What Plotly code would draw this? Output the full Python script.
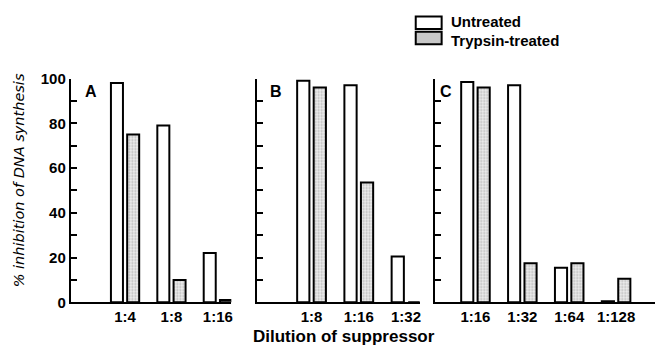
import plotly.graph_objects as go

# ---- data ----
A_labels = ["1:4", "1:8", "1:16"]
A_untreated = [98, 79, 22]
A_trypsin = [75, 10, 1]

B_labels = ["1:8", "1:16", "1:32"]
B_untreated = [99, 97, 20.5]
B_trypsin = [96, 53.5, 0]

C_labels = ["1:16", "1:32", "1:64", "1:128"]
C_untreated = [98.5, 97, 15.5, 0.5]
C_trypsin = [96, 17.5, 17.5, 10.5]

y_ticks = list(range(0, 101, 10))
y_ticktext = [str(v) if v % 20 == 0 else "" for v in y_ticks]

W, H = 657, 357
def px(x):
    return x / W
def py(y):
    return (H - y) / H

FONT = "Liberation Sans, Arial, sans-serif"

fig = go.Figure()

panels = [
    ("x", "y", A_labels, A_untreated, A_trypsin),
    ("x2", "y2", B_labels, B_untreated, B_trypsin),
    ("x3", "y3", C_labels, C_untreated, C_trypsin),
]
for xa, ya, labels, unt, tryp in panels:
    pos = list(range(len(labels)))
    fig.add_trace(go.Bar(x=pos, y=unt, xaxis=xa, yaxis=ya, name="Untreated",
                         marker=dict(color="white", line=dict(color="black", width=2)),
                         showlegend=False))
    fig.add_trace(go.Bar(x=pos, y=tryp, xaxis=xa, yaxis=ya, name="Trypsin-treated",
                         marker=dict(color="#d4d4d4", line=dict(color="black", width=2),
                                     pattern=dict(shape=".", size=3, solidity=0.35,
                                                  fgcolor="#7a7a7a", bgcolor="#eeeeee")),
                         showlegend=False))

tickfont = dict(family=FONT, size=15, color="black", weight="bold")
ydom = [py(308), py(73)]

def xaxis(dom, rng, labels):
    return dict(domain=dom, range=rng, tickvals=list(range(len(labels))), ticktext=labels,
                showline=True, linecolor="black", linewidth=2, ticks="", showgrid=False,
                zeroline=False, tickfont=tickfont, fixedrange=True)

def yaxis(anchor, show_labels):
    return dict(domain=ydom, range=[0, 100], anchor=anchor, tickvals=y_ticks,
                ticktext=y_ticktext if show_labels else [""] * len(y_ticks),
                showline=True, linecolor="black", linewidth=2, ticks="inside",
                ticklen=6, tickwidth=2, tickcolor="black", showgrid=False, zeroline=False,
                tickfont=tickfont)

fig.update_layout(
    width=W, height=H, margin=dict(l=0, r=0, t=0, b=0),
    paper_bgcolor="white", plot_bgcolor="white",
    barmode="group", bargap=0.3, bargroupgap=0.26,
    xaxis=xaxis([px(71), px(232)], [-1.17, 2.29], A_labels) | dict(anchor="y"),
    xaxis2=xaxis([px(258), px(421)], [-1.15, 2.29], B_labels) | dict(anchor="y2"),
    xaxis3=xaxis([px(436), 1.0], [-0.87, 3.83], C_labels) | dict(anchor="y3"),
    yaxis=yaxis("x", True),
    yaxis2=yaxis("x2", False),
    yaxis3=yaxis("x3", False),
    showlegend=False,
)

ann_font = dict(family=FONT, size=16, color="black", weight="bold")
annotations = [
    dict(x=px(91), y=py(87), text="A"),
    dict(x=px(277), y=py(87), text="B"),
    dict(x=px(447), y=py(87), text="C"),
]
for a in annotations:
    fig.add_annotation(xref="paper", yref="paper", showarrow=False, font=ann_font,
                       xanchor="center", yanchor="middle", **a)

# axis titles
fig.add_annotation(xref="paper", yref="paper", x=px(345), y=py(344), showarrow=False,
                   text="Dilution of suppressor",
                   font=dict(family=FONT, size=17, color="black", weight="bold"),
                   xanchor="center", yanchor="middle")
fig.add_annotation(xref="paper", yref="paper", x=px(19), y=py(180), showarrow=False,
                   text="<i>% inhibition of DNA synthesis</i>", textangle=-90,
                   font=dict(family="DejaVu Sans, sans-serif", size=14.5, color="black"),
                   xanchor="center", yanchor="middle")

# legend
fig.add_shape(type="rect", xref="paper", yref="paper", x0=px(417), x1=px(443),
              y0=py(21), y1=py(8), line=dict(color="black", width=2), fillcolor="white")
fig.add_shape(type="rect", xref="paper", yref="paper", x0=px(417), x1=px(443),
              y0=py(37), y1=py(24), line=dict(color="black", width=2), fillcolor="#c8c8c8")
legfont = dict(family=FONT, size=15, color="black", weight="bold")
fig.add_annotation(xref="paper", yref="paper", x=px(451), y=py(23), showarrow=False,
                   text="Untreated", font=legfont, xanchor="left", yanchor="bottom",
                   borderpad=0)
fig.add_annotation(xref="paper", yref="paper", x=px(451), y=py(23), showarrow=False,
                   text="Trypsin-treated", font=legfont, xanchor="left", yanchor="top",
                   borderpad=0)

fig.write_html("out.html")
